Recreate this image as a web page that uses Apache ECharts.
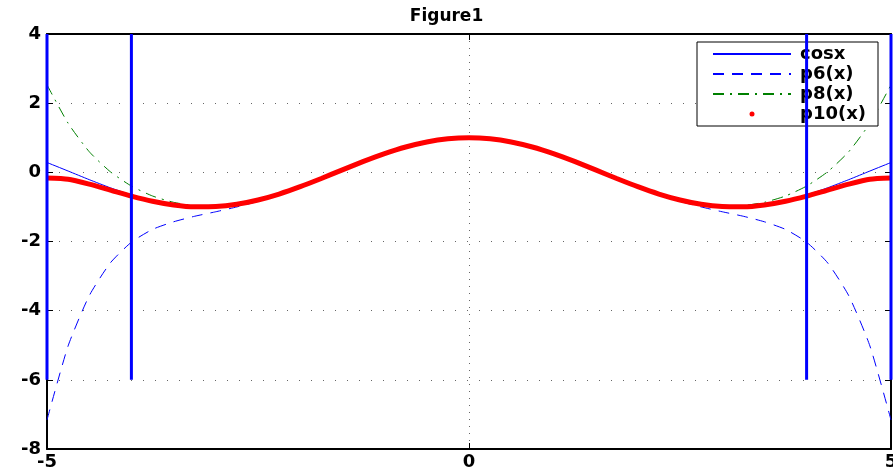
<!DOCTYPE html>
<html>
<head>
<meta charset="utf-8">
<script src="https://cdn.jsdelivr.net/npm/echarts@6/dist/echarts.min.js"></script>
<style>
  html, body { margin: 0; padding: 0; background: #fff; }
  #chart { width: 893px; height: 472px; }
</style>
</head>
<body>
<div id="chart"></div>
<script>
// x samples, -5 .. 5
var xs = [-5,-4.75,-4.5,-4.25,-4,-3.75,-3.5,-3.25,-3,-2.75,-2.5,-2.25,-2,-1.75,-1.5,-1.25,-1,-0.75,-0.5,-0.25,0,
          0.25,0.5,0.75,1,1.25,1.5,1.75,2,2.25,2.5,2.75,3,3.25,3.5,3.75,4,4.25,4.5,4.75,5];

var cosVals = [0.284,0.038,-0.211,-0.446,-0.654,-0.821,-0.937,-0.994,-0.990,-0.924,-0.801,-0.628,-0.416,-0.178,0.071,0.315,0.540,0.732,0.878,0.969,1,
               0.969,0.878,0.732,0.540,0.315,0.071,-0.178,-0.416,-0.628,-0.801,-0.924,-0.990,-0.994,-0.937,-0.821,-0.654,-0.446,-0.211,0.038,0.284];
var p6Vals = [-7.16,-5.02,-3.57,-2.62,-2.02,-1.65,-1.43,-1.27,-1.14,-1.00,-0.84,-0.64,-0.42,-0.18,0.070,0.315,0.540,0.732,0.878,0.969,1,
              0.969,0.878,0.732,0.540,0.315,0.070,-0.18,-0.42,-0.64,-0.84,-1.00,-1.14,-1.27,-1.43,-1.65,-2.02,-2.62,-3.57,-5.02,-7.16];
var p8Vals = [2.53,1.42,0.598,0.018,-0.397,-0.684,-0.867,-0.961,-0.975,-0.918,-0.799,-0.627,-0.416,-0.178,0.071,0.315,0.540,0.732,0.878,0.969,1,
              0.969,0.878,0.732,0.540,0.315,0.071,-0.178,-0.416,-0.627,-0.799,-0.918,-0.975,-0.961,-0.867,-0.684,-0.397,0.018,0.598,1.42,2.53];
var p10Vals = [-0.163,-0.198,-0.340,-0.512,-0.686,-0.836,-0.943,-0.997,-0.991,-0.925,-0.801,-0.628,-0.416,-0.178,0.071,0.315,0.540,0.732,0.878,0.969,1,
               0.969,0.878,0.732,0.540,0.315,0.071,-0.178,-0.416,-0.628,-0.801,-0.925,-0.991,-0.997,-0.943,-0.836,-0.686,-0.512,-0.340,-0.198,-0.163];

// vertical markers
var vertX = [-5, -4, 4, 5];
var vertLow = -6;
var vertHigh = 4;

var names = ['cosx', 'p6(x)', 'p8(x)', 'p10(x)'];

function pairs(vals) {
  return xs.map(function (x, i) { return [x, vals[i]]; });
}

var chart = echarts.init(document.getElementById('chart'));

var font = '"DejaVu Sans", Arial, sans-serif';

var series = [
  {
    name: names[0], type: 'line', data: pairs(cosVals), smooth: 0.2,
    showSymbol: false, symbol: 'none',
    lineStyle: { color: '#0000ff', width: 1 }, itemStyle: { color: '#0000ff' }
  },
  {
    name: names[1], type: 'line', data: pairs(p6Vals), smooth: 0.2,
    showSymbol: false, symbol: 'none',
    lineStyle: { color: '#0000ff', width: 1, type: [11, 8] }, itemStyle: { color: '#0000ff' }
  },
  {
    name: names[2], type: 'line', data: pairs(p8Vals), smooth: 0.2,
    showSymbol: false, symbol: 'none',
    lineStyle: { color: '#008000', width: 1, type: [11, 6, 2, 6] }, itemStyle: { color: '#008000' }
  },
  {
    name: names[3], type: 'line', data: pairs(p10Vals), smooth: 0.2,
    showSymbol: false, symbol: 'none',
    lineStyle: { color: '#ff0000', width: 5 }, itemStyle: { color: '#ff0000' }
  }
];

vertX.forEach(function (vx) {
  series.push({
    name: 'v' + vx, type: 'line', data: [[vx, vertLow], [vx, vertHigh]],
    showSymbol: false, symbol: 'none', clip: false, z: 5,
    lineStyle: { color: '#0000ff', width: 3 }
  });
});

var hideDot = { opacity: 0 };

chart.setOption({
  animation: false,
  backgroundColor: '#ffffff',
  title: {
    text: 'Figure1', left: 'center', top: 3,
    textStyle: { fontFamily: font, fontWeight: 'bold', fontSize: 17, color: '#000' }
  },
  legend: {
    data: [
      { name: 'cosx', itemStyle: hideDot },
      { name: 'p6(x)', itemStyle: hideDot },
      { name: 'p8(x)', itemStyle: hideDot },
      { name: 'p10(x)', icon: 'circle', itemStyle: { color: '#ff0000' } }
    ],
    orient: 'vertical',
    right: 15, top: 42,
    backgroundColor: '#fff',
    borderColor: '#000', borderWidth: 1,
    padding: [3, 12, 3, 15],
    itemWidth: 78, itemHeight: 5, itemGap: 2,
    textStyle: { fontFamily: font, fontWeight: 'bold', fontSize: 18, color: '#000', padding: [0, 0, 0, 4] }
  },
  grid: { left: 47, right: 2, top: 34, bottom: 23, containLabel: false, outerBoundsMode: 'none' },
  xAxis: [
    {
      type: 'value', min: -5, max: 5, interval: 5,
      axisLine: { show: true, onZero: false, lineStyle: { color: '#000', width: 2 } },
      axisTick: { inside: true, length: 6, lineStyle: { color: '#000' } },
      axisLabel: { fontFamily: font, fontWeight: 'bold', fontSize: 18, color: '#000', margin: 4,
        showMinLabel: true, showMaxLabel: true },
      splitLine: { show: true, lineStyle: { color: '#666', type: [1, 6] } }
    },
    {
      type: 'value', min: -5, max: 5, interval: 5, position: 'top',
      axisLine: { show: true, onZero: false, lineStyle: { color: '#000', width: 2 } },
      axisTick: { inside: true, length: 6, lineStyle: { color: '#000' } },
      axisLabel: { show: false }, splitLine: { show: false }
    }
  ],
  yAxis: [
    {
      type: 'value', min: -8, max: 4, interval: 2,
      axisLine: { show: true, onZero: false, lineStyle: { color: '#000', width: 2 } },
      axisTick: { show: true, inside: true, length: 6, lineStyle: { color: '#000' } },
      axisLabel: { fontFamily: font, fontWeight: 'bold', fontSize: 18, color: '#000', margin: 6 },
      splitLine: { show: true, lineStyle: { color: '#666', type: [1, 11] } }
    },
    {
      type: 'value', min: -8, max: 4, interval: 2, position: 'right',
      axisLine: { show: true, onZero: false, lineStyle: { color: '#000', width: 2 } },
      axisTick: { show: true, inside: true, length: 6, lineStyle: { color: '#000' } },
      axisLabel: { show: false }, splitLine: { show: false }
    }
  ],
  series: series
});
</script>
</body>
</html>
